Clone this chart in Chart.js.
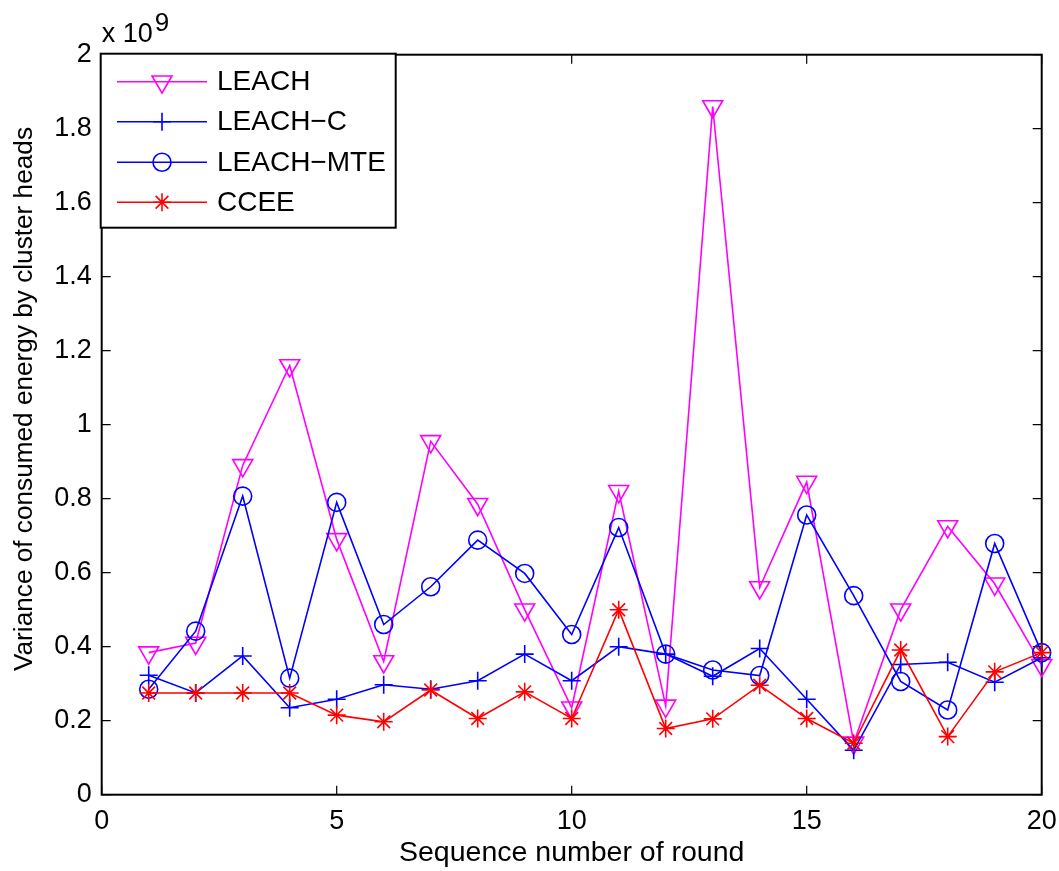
<!DOCTYPE html>
<html>
<head>
<meta charset="utf-8">
<script src="https://cdn.jsdelivr.net/npm/chart.js@4.4.1/dist/chart.umd.min.js"></script>
<style>
  html, body { margin: 0; padding: 0; background: #ffffff; }
  #wrap { width: 1059px; height: 871px; }
</style>
</head>
<body>
<div id="wrap"><canvas id="c" width="1059" height="871"></canvas></div>
<script>
// Round numbers (x axis)
const rounds = [1, 2, 3, 4, 5, 6, 7, 8, 9, 10, 11, 12, 13, 14, 15, 16, 17, 18, 19, 20];

// Variance of consumed energy by cluster heads, in units of 10^9
const leach    = [0.384, 0.41, 0.89, 1.16, 0.69, 0.36, 0.955, 0.785, 0.50, 0.235, 0.82, 0.24, 1.86, 0.56, 0.845, 0.14, 0.50, 0.725, 0.57, 0.35];
const leachC   = [0.323, 0.275, 0.375, 0.235, 0.258, 0.297, 0.285, 0.308, 0.38, 0.308, 0.40, 0.38, 0.32, 0.395, 0.258, 0.12, 0.352, 0.358, 0.304, 0.37];
const leachMTE = [0.285, 0.442, 0.807, 0.315, 0.79, 0.46, 0.562, 0.688, 0.598, 0.433, 0.722, 0.38, 0.337, 0.322, 0.756, 0.538, 0.306, 0.229, 0.679, 0.384];
const ccee     = [0.275, 0.275, 0.275, 0.275, 0.215, 0.197, 0.283, 0.206, 0.278, 0.206, 0.50, 0.179, 0.205, 0.296, 0.206, 0.139, 0.391, 0.157, 0.332, 0.384];

const seriesNames = ['LEACH', 'LEACH\u2212C', 'LEACH\u2212MTE', 'CCEE'];
const xTicks = [0, 5, 10, 15, 20];
const yTicks = [0, 0.2, 0.4, 0.6, 0.8, 1, 1.2, 1.4, 1.6, 1.8, 2];
const exponentBase = 'x 10';
const exponentPower = '9';
const xTitle = 'Sequence number of round';
const yTitle = 'Variance of consumed energy by cluster heads';

const FONT = '"Liberation Sans", Arial, Helvetica, sans-serif';
const MAGENTA = '#ff00ff', BLUE = '#0000ff', RED = '#ff0000';

const toPoints = vals => rounds.map((r, i) => ({ x: r, y: vals[i] }));

function makeSet(label, vals, color, style, radius, rotation, order) {
  return {
    label, data: toPoints(vals),
    borderColor: color, backgroundColor: 'rgba(0,0,0,0)',
    borderWidth: 1.6, pointStyle: style, pointRadius: radius, pointHoverRadius: radius,
    pointRotation: rotation, pointBorderColor: color, pointBackgroundColor: 'rgba(0,0,0,0)',
    pointBorderWidth: 1.6, tension: 0, clip: false, order
  };
}

// Box around the plot with inward tick marks on all four sides,
// the exponent label and the rotated y axis title
const axesBox = {
  id: 'axesBox',
  beforeDatasetsDraw(chart) {
    const { ctx, chartArea: a, scales: { x, y } } = chart;
    const len = 9;
    ctx.save();
    ctx.strokeStyle = '#000';
    ctx.lineWidth = 1.2;
    ctx.beginPath();
    xTicks.forEach(v => {
      const px = x.getPixelForValue(v);
      ctx.moveTo(px, a.bottom); ctx.lineTo(px, a.bottom - len);
      ctx.moveTo(px, a.top); ctx.lineTo(px, a.top + len);
    });
    yTicks.forEach(v => {
      const py = y.getPixelForValue(v);
      ctx.moveTo(a.left, py); ctx.lineTo(a.left + len, py);
      ctx.moveTo(a.right, py); ctx.lineTo(a.right - len, py);
    });
    ctx.stroke();
    ctx.lineWidth = 2;
    ctx.strokeRect(a.left, a.top, a.right - a.left, a.bottom - a.top);

    ctx.fillStyle = '#000';
    ctx.textBaseline = 'alphabetic';
    ctx.textAlign = 'left';
    ctx.font = '27px ' + FONT;
    ctx.fillText(exponentBase, a.left, 42);
    const w = ctx.measureText(exponentBase).width;
    ctx.font = '26px ' + FONT;
    ctx.fillText(exponentPower, a.left + w + 2, 31);

    ctx.translate(25, 399);
    ctx.rotate(-Math.PI / 2);
    ctx.font = '26.2px ' + FONT;
    ctx.textAlign = 'center';
    ctx.textBaseline = 'middle';
    ctx.fillText(yTitle, 0, 0);
    ctx.restore();
  }
};

// Legend box in the upper-left corner of the plot
const boxLegend = {
  id: 'boxLegend',
  afterDatasetsDraw(chart) {
    const { ctx, chartArea: a } = chart;
    const left = a.left - 1, top = a.top - 1, width = 295, height = 174;
    const rowY = [81.7, 121.7, 162.3, 202.3];
    ctx.save();
    ctx.fillStyle = '#fff';
    ctx.fillRect(left, top, width, height);
    ctx.strokeStyle = '#000';
    ctx.lineWidth = 2;
    ctx.strokeRect(left, top, width, height);
    chart.data.datasets.forEach((ds, i) => {
      const yy = rowY[i];
      ctx.strokeStyle = ds.borderColor;
      ctx.lineWidth = ds.borderWidth;
      ctx.beginPath();
      ctx.moveTo(117, yy); ctx.lineTo(207, yy);
      ctx.stroke();
      ctx.fillStyle = 'rgba(0,0,0,0)';
      Chart.helpers.drawPoint(ctx, {
        pointStyle: ds.pointStyle, radius: ds.pointRadius, rotation: ds.pointRotation,
        borderWidth: ds.pointBorderWidth
      }, 162, yy);
      ctx.fillStyle = '#000';
      ctx.font = '28px ' + FONT;
      ctx.textAlign = 'left';
      ctx.textBaseline = 'middle';
      ctx.fillText(ds.label, 217, yy + 1);
    });
    ctx.restore();
  }
};

const fmt = v => String(Number(Number(v).toFixed(1)));

new Chart(document.getElementById('c'), {
  type: 'line',
  data: {
    datasets: [
      makeSet(seriesNames[0], leach, MAGENTA, 'triangle', 11.5, 180, 4),
      makeSet(seriesNames[1], leachC, BLUE, 'cross', 9, 0, 3),
      makeSet(seriesNames[2], leachMTE, BLUE, 'circle', 9, 0, 2),
      makeSet(seriesNames[3], ccee, RED, 'star', 9, 0, 1)
    ]
  },
  options: {
    responsive: false,
    animation: false,
    events: [],
    layout: { padding: { top: 54.7, right: 17.3, left: 0, bottom: 0 } },
    plugins: { legend: { display: false }, tooltip: { enabled: false } },
    scales: {
      x: {
        type: 'linear', min: 0, max: 20,
        afterBuildTicks: s => { s.ticks = xTicks.map(v => ({ value: v })); },
        afterFit: s => { s.height = 76.3; s.paddingLeft = 0; s.paddingRight = 0; },
        grid: { display: false, drawTicks: false },
        border: { display: false },
        ticks: { color: '#000', font: { family: FONT, size: 27 }, padding: 11, maxRotation: 0, callback: fmt },
        title: { display: true, text: xTitle, color: '#000', font: { family: FONT, size: 28.5 }, padding: { top: 0, bottom: 1 } }
      },
      y: {
        type: 'linear', min: 0, max: 2,
        afterBuildTicks: s => { s.ticks = yTicks.map(v => ({ value: v })); },
        afterFit: s => { s.width = 101.7; s.paddingTop = 0; s.paddingBottom = 0; },
        grid: { display: false, drawTicks: false },
        border: { display: false },
        ticks: { color: '#000', font: { family: FONT, size: 27 }, padding: 10, callback: fmt },
        title: { display: false }
      }
    }
  },
  plugins: [axesBox, boxLegend]
});
</script>
</body>
</html>
